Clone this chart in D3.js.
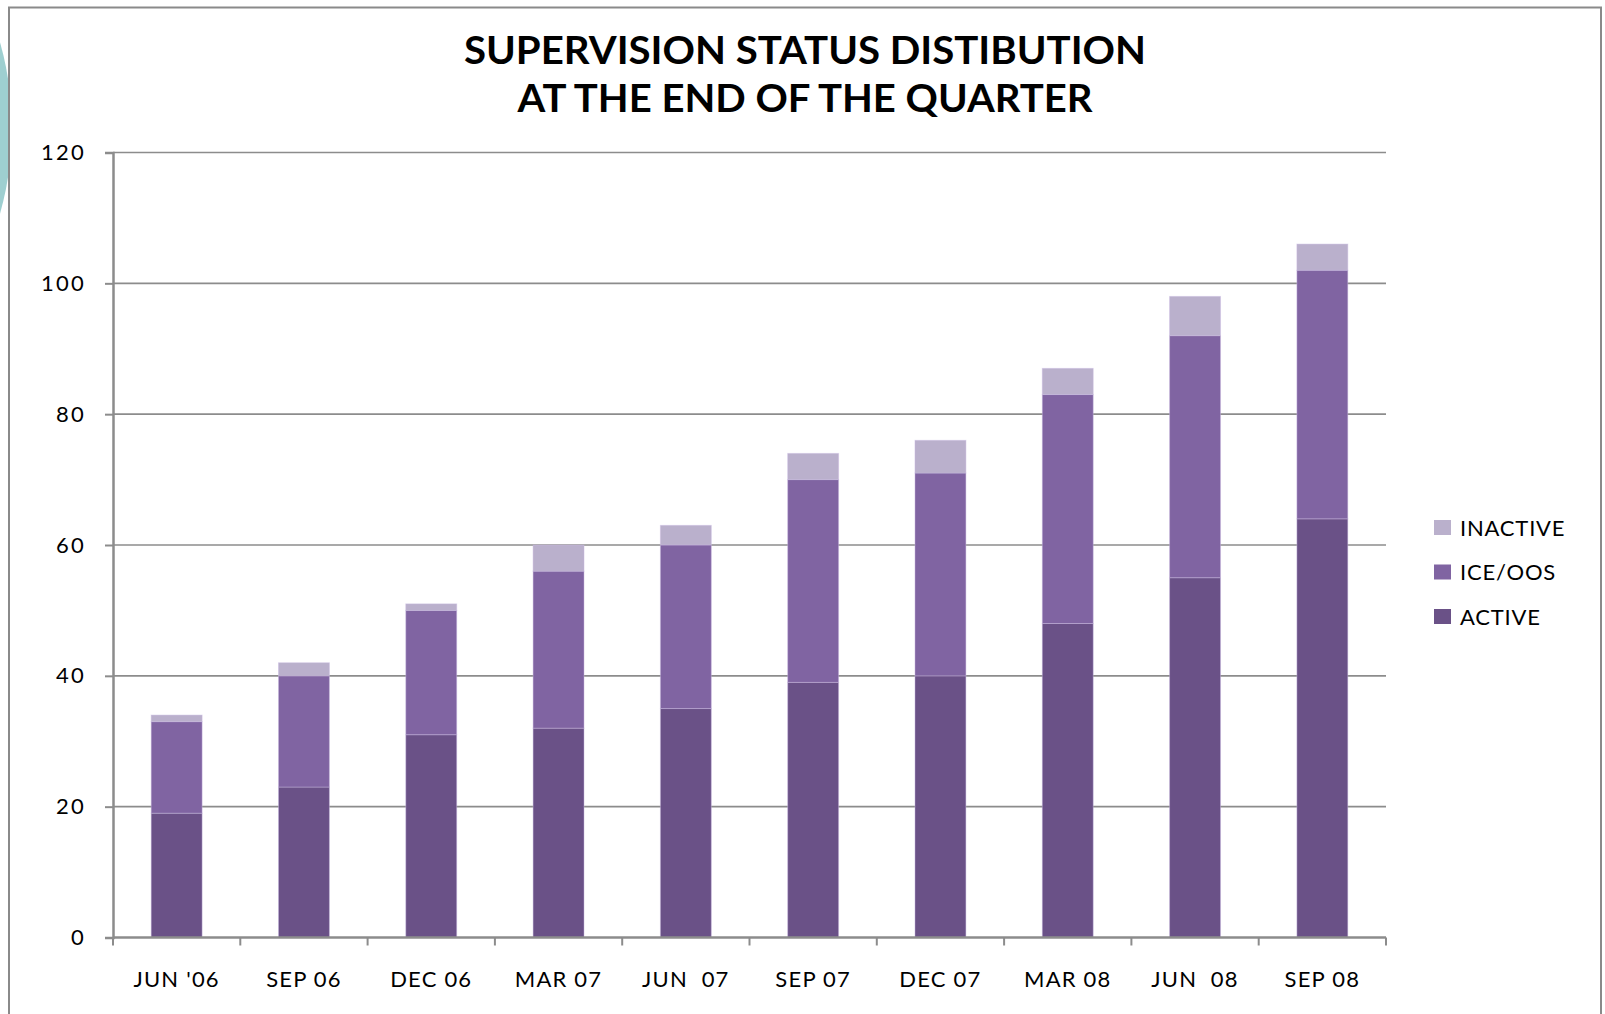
<!DOCTYPE html>
<html><head><meta charset="utf-8">
<script src="https://cdn.jsdelivr.net/npm/d3@7"></script>
<style>
html,body{margin:0;padding:0;background:#fff;overflow:hidden}
text{font-family:Lato,"Open Sans",sans-serif}
</style></head>
<body><svg id="c" width="1605" height="1014"></svg>
<script>
const categories = ["JUN '06","SEP 06","DEC 06","MAR 07","JUN  07","SEP 07","DEC 07","MAR 08","JUN  08","SEP 08"];
const active   = [19,23,31,32,35,39,40,48,55,64];
const iceOos   = [14,17,19,24,25,31,31,35,37,38];
const inactive = [1,2,1,4,3,4,5,4,6,4];
const seriesNames = ["ACTIVE","ICE/OOS","INACTIVE"];
const seriesColors = ["#6a5187","#8064a2","#bab0cc"];
const yTicks = [0,20,40,60,80,100,120];
const titleLines = ["SUPERVISION STATUS DISTIBUTION","AT THE END OF THE QUARTER"];

const svg = d3.select("#c");
svg.append("circle").attr("cx",-300).attr("cy",128).attr("r",312).attr("fill","#9ecfd0");
svg.append("rect").attr("x",9).attr("y",7.5).attr("width",1592).attr("height",1030)
  .attr("fill","#fff").attr("stroke","#8a8a8a").attr("stroke-width",2);

const x = d3.scaleBand().domain(categories).range([113,1386]).paddingInner(0.6).paddingOuter(0.3);
const y = d3.scaleLinear().domain([0,120]).range([937.5,152.5]);

svg.append("g").selectAll("line").data(yTicks.filter(t=>t>0)).join("line")
  .attr("x1",113).attr("x2",1386).attr("y1",d=>y(d)).attr("y2",d=>y(d))
  .attr("stroke","#8c8c8c").attr("stroke-width",1.6);

const ya = svg.append("g").attr("transform","translate(113,0)")
  .call(d3.axisLeft(y).tickValues(yTicks).tickSize(8).tickPadding(19));
ya.select(".domain").attr("stroke","#8c8c8c").attr("stroke-width",2.5);
ya.selectAll(".tick line").attr("stroke","#8c8c8c").attr("stroke-width",2);
ya.selectAll(".tick text").attr("font-size",22).attr("fill","#000").attr("letter-spacing",2.2)
  .style("font-family","Lato");

const rows = categories.map((c,i)=>({cat:c, ACTIVE:active[i], "ICE/OOS":iceOos[i], INACTIVE:inactive[i]}));
const stack = d3.stack().keys(seriesNames)(rows);
svg.append("g").selectAll("g").data(stack).join("g")
  .attr("fill",(d,i)=>seriesColors[i])
  .selectAll("rect").data(d=>d).join("rect")
  .attr("x",d=>x(d.data.cat)).attr("width",x.bandwidth())
  .attr("y",d=>y(d[1])).attr("height",d=>y(d[0])-y(d[1]))
  .attr("stroke","rgba(200,185,225,0.45)").attr("stroke-width",1);

const xa = svg.append("g").attr("transform","translate(0,937.5)");
xa.append("line").attr("x1",113).attr("x2",1386).attr("stroke","#8c8c8c").attr("stroke-width",2.5);
const bounds = d3.range(categories.length+1).map(i=>113 + i*x.step());
xa.selectAll("line.tk").data(bounds).join("line").attr("class","tk")
  .attr("x1",d=>d).attr("x2",d=>d).attr("y1",0).attr("y2",8)
  .attr("stroke","#8c8c8c").attr("stroke-width",2);
const xb = svg.append("g").attr("transform","translate(0,937.5)")
  .call(d3.axisBottom(x).tickSize(0).tickPadding(34));
xb.select(".domain").remove();
xb.selectAll(".tick text").attr("font-size",22).attr("fill","#000").attr("letter-spacing",1.2)
  .style("font-family","Lato").style("white-space","pre");

const tg = svg.append("g");
tg.selectAll("text").data(titleLines).join("text")
  .attr("x",805).attr("y",(d,i)=>64+i*48).attr("text-anchor","middle")
  .attr("font-size",38).attr("font-weight","bold").attr("fill","#000")
  .attr("textLength",(d,i)=>[682,575][i]).attr("lengthAdjust","spacingAndGlyphs")
  .text(d=>d);

const legendOrder = ["INACTIVE","ICE/OOS","ACTIVE"];
const lg = svg.append("g").selectAll("g").data(legendOrder).join("g")
  .attr("transform",(d,i)=>`translate(1434,${520+i*44.5})`);
lg.append("rect").attr("width",17).attr("height",15)
  .attr("fill",d=>seriesColors[seriesNames.indexOf(d)]);
lg.append("text").attr("x",26).attr("y",15.5).attr("font-size",22).attr("fill","#000")
  .attr("letter-spacing",0.8).text(d=>d);
</script></body></html>
